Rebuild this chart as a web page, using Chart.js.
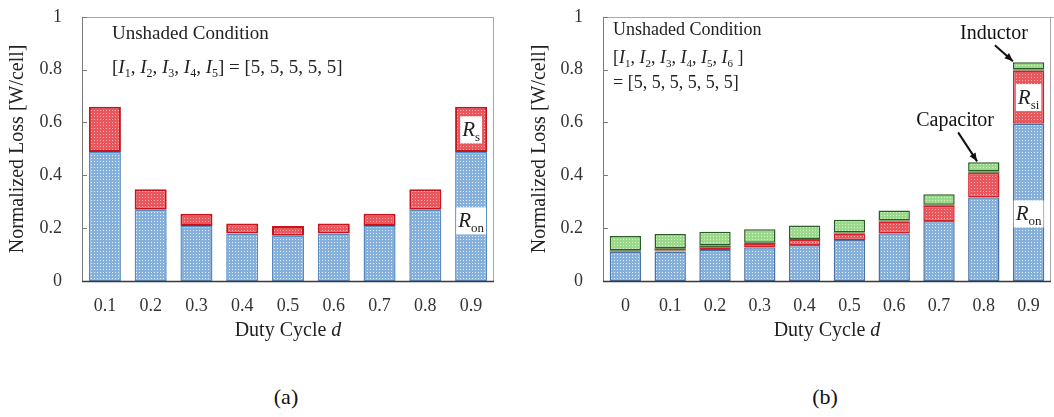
<!DOCTYPE html>
<html>
<head>
<meta charset="utf-8">
<script src="https://cdn.jsdelivr.net/npm/chart.js@4.4.1/dist/chart.umd.min.js"></script>
<style>
  body { margin: 0; background: #fff; width: 1054px; height: 417px; overflow: hidden; position: relative; }
  canvas { position: absolute; top: -14px; }
  #chartA { left: 0; }
  #chartB { left: 520px; }
  .cap { position: absolute; top: 384px; font: 22px 'Liberation Serif', serif; color: #111; transform: translateX(-50%); }
</style>
</head>
<body>
<canvas id="chartA" width="520" height="364"></canvas>
<canvas id="chartB" width="534" height="364"></canvas>
<div class="cap" style="left:286px">(a)</div>
<div class="cap" style="left:825px">(b)</div>

<script>
// duty cycle categories and loss breakdown, W/cell
const dutyA = ['0.1', '0.2', '0.3', '0.4', '0.5', '0.6', '0.7', '0.8', '0.9'];
const ronA  = [0.488, 0.270, 0.208, 0.180, 0.171, 0.180, 0.208, 0.270, 0.488];
const rsA   = [0.172, 0.077, 0.047, 0.038, 0.037, 0.038, 0.047, 0.077, 0.172];

const dutyB = ['0', '0.1', '0.2', '0.3', '0.4', '0.5', '0.6', '0.7', '0.8', '0.9'];
const ronB  = [0.110, 0.112, 0.117, 0.128, 0.136, 0.155, 0.181, 0.227, 0.317, 0.595];
const rsiB  = [0.002, 0.003, 0.009, 0.012, 0.019, 0.025, 0.044, 0.058, 0.093, 0.202];
const capB  = [0.004, 0.009, 0.008, 0.005, 0.004, 0.004, 0.004, 0.004, 0.004, 0.004];
const indB  = [0.054, 0.054, 0.052, 0.051, 0.051, 0.048, 0.038, 0.039, 0.035, 0.027];

const yTicks = [0, 0.2, 0.4, 0.6, 0.8, 1];

const SERIF = "'Liberation Serif', 'Times New Roman', serif";
Chart.defaults.font.family = SERIF;
Chart.defaults.color = '#222';

// small repeating tile so the bars get the dotted hatch
function dotted(base, dot) {
  const c = document.createElement('canvas');
  c.width = 3; c.height = 3;
  const g = c.getContext('2d');
  g.fillStyle = base;
  g.fillRect(0, 0, 3, 3);
  g.fillStyle = dot;
  g.fillRect(1, 1, 1, 1);
  return g.createPattern(c, 'repeat');
}

const blueFill  = dotted('#86b0dc', '#e6f0fa');
const redFill   = dotted('#e9575c', '#f8b4b4');
const greenFill = dotted('#9bd98a', '#d9f3cf');

function fontOf(p, size) {
  return (p[1] === 'i' ? 'italic ' : '') + (p[1] === 's' ? Math.round(size * 0.62) : size) + 'px ' + SERIF;
}

function richWidth(ctx, parts, size) {
  let w = 0;
  parts.forEach(p => { ctx.font = fontOf(p, size); w += ctx.measureText(p[0]).width; });
  return w;
}

// draws a run of text pieces: n = normal, i = italic, s = subscript
function drawRich(ctx, x, y, parts, size, align) {
  const total = richWidth(ctx, parts, size);
  let cx = align === 'center' ? x - total / 2 : x;
  ctx.textBaseline = 'alphabetic';
  ctx.textAlign = 'left';
  parts.forEach(p => {
    ctx.font = fontOf(p, size);
    ctx.fillText(p[0], cx, p[1] === 's' ? y + size * 0.22 : y);
    cx += ctx.measureText(p[0]).width;
  });
}

const deco = {
  id: 'deco',
  afterDraw(chart, args, opts) {
    const ctx = chart.ctx;
    const a = chart.chartArea;
    const y = chart.scales.y;
    ctx.save();

    // frame: light top/right, darker axes
    ctx.lineWidth = 1;
    ctx.strokeStyle = '#a8a8a8';
    ctx.beginPath();
    ctx.moveTo(a.left, Math.round(a.top) + 0.5);
    ctx.lineTo(opts.frameRight || a.right, Math.round(a.top) + 0.5);
    ctx.moveTo(a.right - 0.5, a.top);
    ctx.lineTo(a.right - 0.5, a.bottom);
    ctx.stroke();
    ctx.strokeStyle = '#7a7a7a';
    ctx.beginPath();
    ctx.moveTo(a.left + 0.5, a.top);
    ctx.lineTo(a.left + 0.5, a.bottom);
    yTicks.forEach(v => {
      const py = Math.round(y.getPixelForValue(v)) + 0.5;
      ctx.moveTo(a.left, py);
      ctx.lineTo(a.left + 5, py);
    });
    ctx.stroke();
    ctx.strokeStyle = '#3a3a3a';
    ctx.lineWidth = 1.5;
    ctx.beginPath();
    ctx.moveTo(a.left, a.bottom + 0.5);
    ctx.lineTo(a.right, a.bottom + 0.5);
    ctx.stroke();

    ctx.fillStyle = '#222';
    // y title
    ctx.save();
    ctx.translate(opts.yTitleX, (a.top + a.bottom) / 2);
    ctx.rotate(-Math.PI / 2);
    ctx.font = '20px ' + SERIF;
    ctx.textAlign = 'center';
    ctx.textBaseline = 'middle';
    ctx.fillText('Normalized Loss [W/cell]', 0, 0);
    ctx.restore();

    // x title
    drawRich(ctx, (a.left + a.right) / 2, a.bottom + 55, [['Duty Cycle ', 'n'], ['d', 'i']], 20, 'center');

    // condition text in the upper left, placed from the plot's top edge
    opts.notes.forEach(n => drawRich(ctx, a.left + n.dx, a.top + n.dy, n.parts, n.size, 'left'));

    // resistor labels in white boxes on the tallest bar
    opts.labels.forEach(l => {
      const bar = chart.getDatasetMeta(l.ds).data[l.idx];
      const cy = bar.base - (bar.base - bar.y) * l.frac;
      const w = richWidth(ctx, l.parts, 21);
      ctx.fillStyle = '#fff';
      ctx.fillRect(bar.x - w / 2 - 2, cy - 13, w + 4, 27);
      ctx.fillStyle = '#222';
      drawRich(ctx, bar.x, cy + 7, l.parts, 21, 'center');
    });

    // callouts with arrows
    (opts.arrows || []).forEach(r => {
      const last = chart.data.datasets.length - 1;
      const bar = chart.getDatasetMeta(last).data[r.idx];
      const tipX = bar.x - bar.width / 2 + r.tipDx;
      const tipY = bar.y - 1;
      const sx = tipX + r.fromDx, sy = tipY + r.fromDy;
      ctx.fillStyle = '#111';
      ctx.strokeStyle = '#111';
      ctx.lineWidth = 2;
      ctx.beginPath();
      ctx.moveTo(sx, sy);
      ctx.lineTo(tipX, tipY);
      ctx.stroke();
      const ang = Math.atan2(tipY - sy, tipX - sx);
      ctx.beginPath();
      ctx.moveTo(tipX, tipY);
      ctx.lineTo(tipX - 9 * Math.cos(ang - 0.4), tipY - 9 * Math.sin(ang - 0.4));
      ctx.lineTo(tipX - 9 * Math.cos(ang + 0.4), tipY - 9 * Math.sin(ang + 0.4));
      ctx.closePath();
      ctx.fill();
      drawRich(ctx, sx + r.textDx, sy - 6, [[r.text, 'n']], 20, 'center');
    });
    ctx.restore();
  }
};

function makeOptions(yWidth, pad, extra) {
  return {
    responsive: false,
    animation: false,
    layout: { padding: pad, autoPadding: false },
    plugins: { legend: { display: false }, tooltip: { enabled: false }, deco: extra },
    scales: {
      x: {
        stacked: true,
        grid: { display: false, drawTicks: false },
        border: { display: false },
        ticks: { font: { size: 18 }, color: '#333', padding: 14 },
        afterFit: s => { s.height = 69; }
      },
      y: {
        stacked: true,
        min: 0, max: 1,
        grid: { display: false, drawTicks: false },
        border: { display: false },
        ticks: { font: { size: 18 }, color: '#333', padding: 20, callback: v => String(+v.toFixed(1)) },
        afterBuildTicks: s => { s.ticks = yTicks.map(v => ({ value: v })); },
        afterFit: s => { s.width = yWidth; }
      }
    }
  };
}

const barCommon = { barPercentage: 0.7, categoryPercentage: 1, borderSkipped: false };

new Chart(document.getElementById('chartA'), {
  type: 'bar',
  plugins: [deco],
  data: {
    labels: dutyA,
    datasets: [
      Object.assign({ label: 'Ron', data: ronA, backgroundColor: blueFill, borderColor: '#5a8cc4', borderWidth: 1.5 }, barCommon),
      Object.assign({ label: 'Rs', data: rsA, backgroundColor: redFill, borderColor: '#c8141c', borderWidth: 2 }, barCommon)
    ]
  },
  options: makeOptions(82, { top: 17, right: 26, left: 0, bottom: 0 }, {
    yTitleX: 18,
    notes: [
      { dx: 30, dy: 22, size: 19, parts: [['Unshaded Condition', 'n']] },
      { dx: 30, dy: 56, size: 19, parts: [['[', 'n'], ['I', 'i'], ['1', 's'], [', ', 'n'], ['I', 'i'], ['2', 's'], [', ', 'n'],
        ['I', 'i'], ['3', 's'], [', ', 'n'], ['I', 'i'], ['4', 's'], [', ', 'n'], ['I', 'i'], ['5', 's'], ['] = [5, 5, 5, 5, 5]', 'n']] }
    ],
    labels: [
      { ds: 1, idx: 8, frac: 0.5, parts: [['R', 'i'], ['s', 's']] },
      { ds: 0, idx: 8, frac: 0.47, parts: [['R', 'i'], ['on', 's']] }
    ]
  })
});

new Chart(document.getElementById('chartB'), {
  type: 'bar',
  plugins: [deco],
  data: {
    labels: dutyB,
    datasets: [
      Object.assign({ label: 'Ron', data: ronB, backgroundColor: blueFill, borderColor: '#4a72a6', borderWidth: 1.5 }, barCommon),
      Object.assign({ label: 'Rsi', data: rsiB, backgroundColor: redFill, borderColor: '#d0222a', borderWidth: 1.5 }, barCommon),
      Object.assign({ label: 'Capacitor', data: capB, backgroundColor: '#4f6a30', borderWidth: 0 }, barCommon),
      Object.assign({ label: 'Inductor', data: indB, backgroundColor: greenFill, borderColor: '#2d5a2a', borderWidth: 1.5 }, barCommon)
    ]
  },
  options: makeOptions(83, { top: 18, right: 3, left: 0, bottom: 0 }, {
    yTitleX: 20,
    frameRight: 534,
    notes: [
      { dx: 10, dy: 18, size: 18, parts: [['Unshaded Condition', 'n']] },
      { dx: 10, dy: 46, size: 18, parts: [['[', 'n'], ['I', 'i'], ['1', 's'], [', ', 'n'], ['I', 'i'], ['2', 's'], [', ', 'n'],
        ['I', 'i'], ['3', 's'], [', ', 'n'], ['I', 'i'], ['4', 's'], [', ', 'n'], ['I', 'i'], ['5', 's'], [', ', 'n'],
        ['I', 'i'], ['6', 's'], [' ]', 'n']] },
      { dx: 10, dy: 71, size: 18, parts: [['= [5, 5, 5, 5, 5, 5]', 'n']] }
    ],
    labels: [
      { ds: 1, idx: 9, frac: 0.5, parts: [['R', 'i'], ['si', 's']] },
      { ds: 0, idx: 9, frac: 0.43, parts: [['R', 'i'], ['on', 's']] }
    ],
    arrows: [
      { idx: 9, tipDx: 0, fromDx: -18, fromDy: -16, textDx: -1, text: 'Inductor' },
      { idx: 8, tipDx: 9, fromDx: -19, fromDy: -29, textDx: -3, text: 'Capacitor' }
    ]
  })
});
</script>
</body>
</html>
